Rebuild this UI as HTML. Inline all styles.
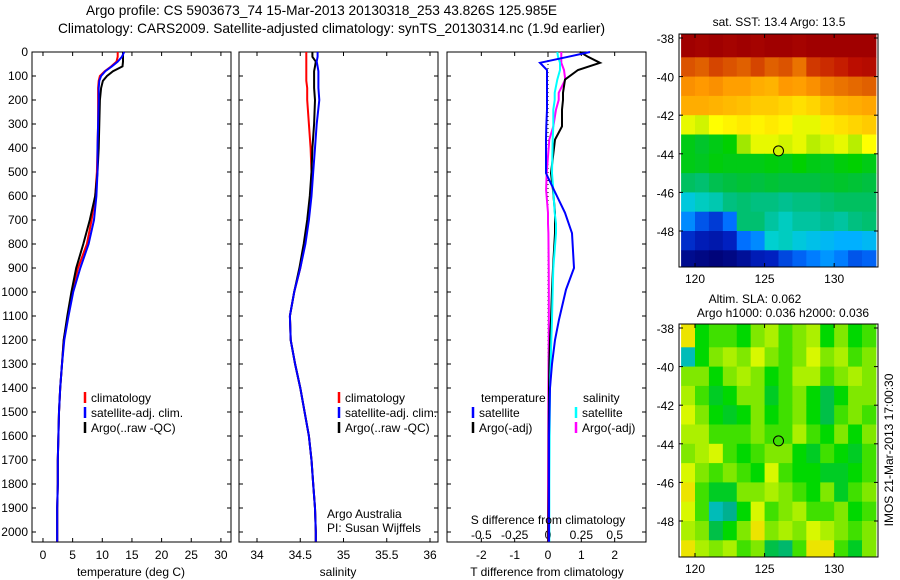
<!DOCTYPE html>
<html><head><meta charset="utf-8"><style>
body{margin:0;background:#fff;width:900px;height:580px;overflow:hidden}
svg{display:block;font-family:"Liberation Sans",sans-serif;font-size:12px}
.ttl{font-size:13.7px}
</style></head><body>
<svg id="c" width="900" height="580" xmlns="http://www.w3.org/2000/svg">
<text class="ttl" x="86" y="15">Argo profile: CS 5903673_74 15-Mar-2013 20130318_253 43.826S 125.985E</text>
<text class="ttl" x="58" y="33">Climatology: CARS2009. Satellite-adjusted climatology: synTS_20130314.nc (1.9d earlier)</text>
</svg>
<script>
// ---- data ----
const depths=[0,20,40,60,80,100,120,150,200,300,400,500,600,700,800,900,1000,1100,1200,1300,1400,1500,1600,1700,1800,1900,2000,2040];
const tempClim=[12.6,12.6,12.4,11.5,10.4,9.6,9.4,9.3,9.3,9.3,9.2,9.1,8.8,8.2,7.4,5.9,4.9,4.2,3.5,3.2,2.9,2.7,2.6,2.5,2.5,2.4,2.4,2.4];
const tempSat=[13.7,13.3,12.6,11.6,10.5,9.8,9.5,9.4,9.4,9.3,9.2,9.2,9.0,8.6,7.7,6.3,5.1,4.3,3.6,3.2,2.9,2.7,2.6,2.5,2.5,2.4,2.4,2.4];
const tempArgo=[13.5,13.5,13.5,13.4,11.8,10.8,10.1,9.8,9.6,9.5,9.4,9.2,8.8,7.9,6.8,5.6,4.8,4.1,3.5,3.2,2.9,2.7,2.6,2.5,2.5,2.4,2.4,2.4];
const salClim=[34.57,34.57,34.57,34.57,34.57,34.57,34.57,34.58,34.58,34.6,34.62,34.63,34.62,34.59,34.55,34.5,34.43,34.38,34.39,34.44,34.5,34.55,34.6,34.63,34.65,34.67,34.68,34.68];
const salSat=[34.7,34.7,34.69,34.7,34.71,34.71,34.71,34.71,34.72,34.69,34.67,34.65,34.63,34.6,34.56,34.5,34.43,34.38,34.39,34.44,34.5,34.55,34.6,34.63,34.65,34.67,34.68,34.68];
const salArgo=[34.64,34.64,34.68,34.67,34.66,34.66,34.66,34.66,34.67,34.66,34.64,34.63,34.61,34.58,34.54,34.49,34.43,34.38,34.39,34.44,34.5,34.55,34.6,34.63,34.65,34.67,34.68,34.68];
const dDepths=[0,20,45,75,115,170,200,240,310,365,505,575,670,715,755,900,990,1115,1200,1300,1400,1600,1800,2000,2040];
const dTSat=[1.26,0.6,-0.24,-0.03,-0.03,-0.03,-0.03,-0.03,-0.05,-0.06,-0.06,0.18,0.51,0.62,0.72,0.78,0.54,0.33,0.21,0.12,0.06,0.03,0.03,0.03,0.03];
const dTArgo=[0.96,1.2,1.56,0.9,0.51,0.45,0.45,0.42,0.42,0.21,0.09,0.15,0.21,0.21,0.21,0.15,0.12,0.09,0.06,0.04,0.03,0.02,0.02,0.01,0.01];
const dSSat=[0.07,0.075,0.09,0.09,0.07,0.05,0.05,0.04,0.04,0.035,0.03,0.04,0.05,0.06,0.06,0.04,0.035,0.03,0.025,0.02,0.015,0.012,0.01,0.01,0.01];
const dSArgo=[0.1,0.1,0.1,0.12,0.13,0.08,0.08,0.06,0.04,0.01,-0.01,-0.014,0,0,0.003,0.005,0.006,0.006,0.005,0.004,0.003,0.002,0.001,0,0];
const depthTicks=[0,100,200,300,400,500,600,700,800,900,1000,1100,1200,1300,1400,1500,1600,1700,1800,1900,2000];
const tTicks=[0,5,10,15,20,25,30];
const sTicks=[34,34.5,35,35.5,36];
const dTTicks=[-2,-1,0,1,2];
const dSTickLabels=["-0.5","-0.25","0","0.25","0.5"];
const sstRows=[
[16.7,16.6,16.7,16.6,16.7,16.6,16.7,16.7,16.6,16.7,16.7,16.7,16.7,16.7],
[15.6,15.5,15.7,15.6,15.5,15.7,15.5,15.6,15.3,15.8,15.9,16.0,16.2,16.3],
[15.0,14.9,15.0,14.8,14.8,14.6,14.5,14.9,14.8,15.0,15.2,15.3,15.4,15.5],
[14.6,14.6,14.5,14.4,14.3,14.2,14.2,14.1,14.0,14.1,14.3,14.5,14.6,14.7],
[13.6,13.5,13.7,13.8,13.9,13.8,13.9,13.8,13.6,13.6,13.9,14.0,14.1,14.2],
[12.6,12.4,12.6,12.8,13.3,13.6,13.6,13.5,13.6,13.4,13.5,13.6,13.4,13.7],
[12.6,12.5,12.7,12.6,12.6,12.6,12.7,12.6,12.8,12.6,12.5,12.7,12.8,12.6],
[12.0,11.9,12.1,12.2,12.3,12.2,12.3,12.2,12.2,12.2,12.3,12.4,12.3,12.2],
[11.2,11.4,11.5,11.8,11.9,11.8,11.8,11.7,11.8,11.8,11.9,12.0,12.0,12.0],
[10.6,10.2,10.0,10.4,11.9,11.9,11.6,11.4,11.6,11.6,11.7,11.6,11.8,11.9],
[9.9,9.7,9.6,9.8,10.4,10.6,11.3,11.4,11.2,11.1,11.0,10.9,10.9,11.0],
[9.3,9.2,9.1,9.2,9.4,9.7,9.8,10.1,10.3,10.5,10.7,10.5,10.2,10.3]];
const slaRows=[
[0.25,0.0,0.05,0.05,0.0,0.1,0.15,0.05,0.1,0.15,0.0,0.1,0.0,0.05],
[-0.25,0.0,0.1,0.15,0.1,0.2,0.1,0.05,0.1,0.2,0.1,0.15,0.05,0.1],
[0.1,0.1,0.0,0.1,0.15,0.1,0.0,0.05,0.15,0.15,0.05,0.1,0.15,0.1],
[0.15,0.05,-0.05,0.0,0.1,0.1,-0.05,0.05,0.1,0.0,-0.1,0.0,0.1,0.1],
[0.2,0.1,0.0,-0.05,0.0,0.1,0.0,0.05,0.1,0.0,-0.1,0.05,0.1,0.05],
[0.15,0.15,0.05,0.05,0.05,0.1,0.05,0.05,0.15,0.05,0.0,0.1,0.0,0.1],
[0.1,0.15,0.2,0.05,0.0,0.05,0.1,0.1,0.0,-0.05,0.05,0.0,-0.05,0.05],
[0.2,0.1,0.05,0.1,0.05,0.0,0.2,0.05,0.0,0.0,-0.05,-0.05,0.0,0.05],
[0.25,0.05,-0.05,-0.05,0.1,0.1,0.15,0.1,0.05,0.0,0.1,-0.05,0.05,0.1],
[0.2,0.05,-0.25,-0.2,0.0,0.2,0.05,0.1,0.15,0.05,0.05,0.1,0.0,0.05],
[0.15,0.1,-0.1,0.0,0.1,0.25,0.1,0.15,0.1,0.2,0.15,0.1,0.05,0.1],
[0.25,0.15,0.1,0.15,0.05,0.1,-0.1,-0.15,0.05,0.25,0.25,0.05,-0.05,0.1]];
const mapLons=[119,120,121,122,123,124,125,126,127,128,129,130,131,132];
const mapLats=[-38,-39,-40,-41,-42,-43,-44,-45,-46,-47,-48,-49];
const latTicks=[-38,-40,-42,-44,-46,-48];
const lonTicks=[120,125,130];
const argoPos=[126,-43.85];
// ---- helpers ----
const svg=document.getElementById('c');const NS='http://www.w3.org/2000/svg';
function mk(t,a,p){const e=document.createElementNS(NS,t);for(const k in a)e.setAttribute(k,a[k]);(p||svg).appendChild(e);return e;}
const Y=d=>52+d*0.24;
function lin(d0,d1,r0,r1){return v=>r0+(v-d0)*(r1-r0)/(d1-d0);}
function panel(x0,name){
  const g=mk('g',{});
  mk('rect',{x:x0,y:52,width:199,height:490,fill:'none',stroke:'#000'},g);
  return g;
}
function yticks(g,x0,labels){
  depthTicks.forEach(d=>{const y=Y(d);
    mk('line',{x1:x0,x2:x0+4,y1:y,y2:y,stroke:'#000'},g);mk('line',{x1:x0+199,x2:x0+195,y1:y,y2:y,stroke:'#000'},g);
    if(labels){const t=mk('text',{x:x0-4,y:y+4,'text-anchor':'end'},g);t.textContent=d;
      }});
}
function xticks(g,vals,X,labs,x0){
  vals.forEach((v,i)=>{const x=X(v);
    mk('line',{x1:x,x2:x,y1:542,y2:538,stroke:'#000'},g);mk('line',{x1:x,x2:x,y1:52,y2:56,stroke:'#000'},g);
    const t=mk('text',{x:x,y:559,'text-anchor':'middle'},g);t.textContent=labs?labs[i]:v;
    });
}
function line(g,xs,ds,X,col,name,w){
  const pts=xs.map((v,i)=>X(v).toFixed(1)+','+Y(ds[i]).toFixed(1)).join(' ');
  const p=mk('polyline',{points:pts,fill:'none',stroke:col,'stroke-width':w||2},g);
  
}
function txt(g,x,y,s,name,anchor){const t=mk('text',{x:x,y:y,'text-anchor':anchor||'start'},g);t.textContent=s;
  return t;}
function leg(g,x,y,col,s,name){mk('line',{x1:x,x2:x,y1:y-10,y2:y+1,stroke:col,'stroke-width':2.5},g);
  const t=txt(g,x+6,y,s,name);}
// panel 1
const g1=panel(32,'temperature-panel');const XT=lin(-1.85,31.7,32,231);
yticks(g1,32,true);xticks(g1,tTicks,XT);
line(g1,tempClim,depths,XT,'#f00','climatology-temp-line');
line(g1,tempArgo,depths,XT,'#000','argo-temp-line');
line(g1,tempSat,depths,XT,'#00f','satellite-temp-line');
txt(g1,131,576,'temperature (deg C)','x-axis-title','middle');
leg(g1,85,402,'#f00','climatology','legend-climatology');
leg(g1,85,417,'#00f','satellite-adj. clim.','legend-satellite');
leg(g1,85,432,'#000','Argo(..raw -QC)','legend-argo');
// panel 2
const g2=panel(239,'salinity-panel');const XS=lin(34,36,257,430);
yticks(g2,239,false);xticks(g2,sTicks,XS);
line(g2,salClim,depths,XS,'#f00','climatology-sal-line');
line(g2,salArgo,depths,XS,'#000','argo-sal-line');
line(g2,salSat,depths,XS,'#00f','satellite-sal-line');
txt(g2,338,576,'salinity','x-axis-title','middle');
leg(g2,339,402,'#f00','climatology','legend-climatology');
leg(g2,339,417,'#00f','satellite-adj. clim.','legend-satellite');
leg(g2,339,432,'#000','Argo(..raw -QC)','legend-argo');
txt(g2,327,518,'Argo Australia','credit-line-1');
txt(g2,327,532,'PI: Susan Wijffels','credit-line-2');
// panel 3
const g3=panel(447,'difference-panel');const XD=lin(-3.03,2.94,447,646);const XDS=v=>XD(v*4);
yticks(g3,447,false);xticks(g3,dTTicks,XD);
dSTickLabels.forEach((s,i)=>txt(g3,XD(dTTicks[i]),539,s,'s-tick-label','middle'));
mk('line',{x1:XD(0),x2:XD(0),y1:52,y2:542,stroke:'#000','stroke-dasharray':'1,3'},g3);
line(g3,dSArgo,dDepths,XDS,'#f0f','argo-sal-diff-line');
line(g3,dTArgo,dDepths,XD,'#000','argo-temp-diff-line');
line(g3,dSSat,dDepths,XDS,'#0ff','satellite-sal-diff-line');
line(g3,dTSat,dDepths,XD,'#00f','satellite-temp-diff-line');
txt(g3,547,576,'T difference from climatology','x-axis-title','middle');
txt(g3,548,524,'S difference from climatology','s-axis-title','middle');
txt(g3,481,402,'temperature','legend-temp-header');
leg(g3,473,417,'#00f','satellite','legend-t-satellite');
leg(g3,473,432,'#000','Argo(-adj)','legend-t-argo');
txt(g3,583,402,'salinity','legend-sal-header');
leg(g3,576,417,'#0ff','satellite','legend-s-satellite');
leg(g3,576,432,'#f0f','Argo(-adj)','legend-s-argo');
// maps
function cmap(stops,v){if(v<=stops[0][0])return 'rgb('+stops[0][1].join(',')+')';
  for(let i=1;i<stops.length;i++){if(v<=stops[i][0]){const a=stops[i-1],b=stops[i],f=(v-a[0])/(b[0]-a[0]);
    const c1=a[1],c2=b[1];return 'rgb('+[0,1,2].map(k=>Math.round(c1[k]+(c2[k]-c1[k])*f)).join(',')+')';}}
  return 'rgb('+stops[stops.length-1][1].join(',')+')';}
function rgbS(stops){return stops.map(s=>[s[0],s[1].match(/\w\w/g).map(h=>parseInt(h,16))]);}
const sstStops=rgbS([[9,'000070'],[9.8,'0020c0'],[10.4,'0070ff'],[10.9,'00b0ff'],[11.3,'00d0d0'],[11.7,'00c090'],[12.2,'00c040'],[12.8,'00d000'],[13.3,'a0e800'],[13.7,'ffff00'],[14.3,'ffc000'],[14.9,'ff9900'],[15.5,'e06000'],[16.1,'c01000'],[16.7,'a00000']]);
const slaStops=rgbS([[-0.3,'00c8e0'],[-0.2,'00b090'],[-0.1,'00c048'],[0,'00d800'],[0.1,'80e800'],[0.2,'d8f800'],[0.3,'ffd000']]);
function map(y0,rows,stops,name,latScale){
  const g=mk('g',{});
  const X=lin(118.85,133.15,679,878);const LY=lin(-38,-48,y0+4,y0+4+latScale*10);
  const yb=y0+233;
  rows.forEach((r,j)=>r.forEach((v,i)=>{const x1=Math.max(679,X(mapLons[i])),x2=X(mapLons[i]+1);
    const ya=j==0?y0:LY(mapLats[j]),yz=j==rows.length-1?yb:LY(mapLats[j]-1);
    const c=mk('rect',{x:x1,y:ya,width:Math.min(878,x2)-x1+0.5,height:yz-ya+0.5,fill:cmap(stops,v)},g);
    }));
  mk('rect',{x:679,y:y0,width:199,height:233,fill:'none',stroke:'#000'},g);
  latTicks.forEach(l=>{const y=LY(l);mk('line',{x1:679,x2:683,y1:y,y2:y,stroke:'#000'},g);mk('line',{x1:878,x2:874,y1:y,y2:y,stroke:'#000'},g);
    txt(g,674,y+5,l,'lat-tick-label','end');});
  lonTicks.forEach(l=>{const x=X(l);mk('line',{x1:x,x2:x,y1:y0,y2:y0+4,stroke:'#000'},g);mk('line',{x1:x,x2:x,y1:yb,y2:yb-4,stroke:'#000'},g);
    txt(g,x,yb+16,l,'lon-tick-label','middle');});
  const m=mk('circle',{cx:X(argoPos[0]),cy:LY(argoPos[1]),r:5,fill:cmap(stops,rows[5][7]),stroke:'#000'},g);
  
  return g;
}
const mg1=map(34,sstRows,sstStops,'sst-map',19.3);
txt(mg1,779,26,'sat. SST: 13.4  Argo: 13.5','sst-map-title','middle');
const mg2=map(324,slaRows,slaStops,'sla-map',19.3);
txt(mg2,755,303,'Altim. SLA: 0.062','sla-map-title-1','middle');
txt(mg2,783,317,'Argo h1000: 0.036 h2000: 0.036','sla-map-title-2','middle');
const rt=txt(svg,0,0,'IMOS 21-Mar-2013 17:00:30','imos-timestamp','middle');
rt.setAttribute('transform','translate(893,450) rotate(-90)');
</script>
</body></html>
